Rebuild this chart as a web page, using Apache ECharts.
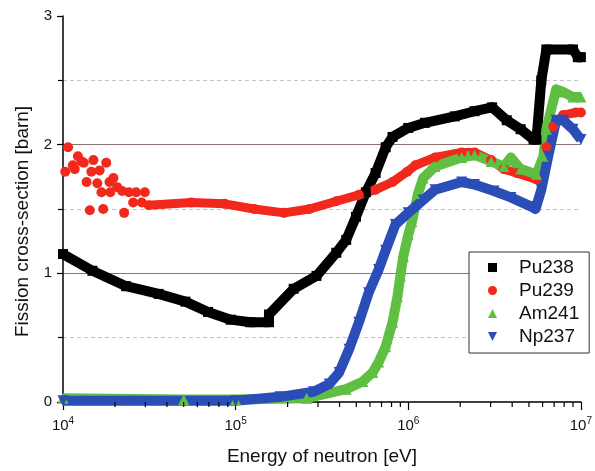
<!DOCTYPE html>
<html>
<head>
<meta charset="utf-8">
<script src="https://cdn.jsdelivr.net/npm/echarts@6/dist/echarts.min.js"></script>
<style>html,body{margin:0;padding:0;background:#fff;}#c{width:595px;height:471px;}</style>
</head>
<body>
<div id="c"></div>
<script>
// ---- data (energy in eV, fission cross-section in barn) ----
const seriesNames = ['Pu238', 'Pu239', 'Am241', 'Np237'];

const pu238 = [[1e4,1.15],[1.48e4,1.02],[2.32e4,0.90],[3.58e4,0.84],[5.12e4,0.78],[6.92e4,0.70],[9.35e4,0.64],[1.22e5,0.62],[1.56e5,0.62],[1.56e5,0.68],[2.17e5,0.88],[2.94e5,0.98],[3.83e5,1.16],[4.37e5,1.26],[4.98e5,1.44],[5.68e5,1.63],[6.47e5,1.78],[7.40e5,1.98],[8.11e5,2.06],[1e6,2.13],[1.25e6,2.17],[1.86e6,2.22],[2.42e6,2.26],[3.06e6,2.29],[3.72e6,2.19],[4.48e6,2.12],[5.32e6,2.04],[5.53e6,2.04],[5.90e6,2.50],[6.31e6,2.74],[9.0e6,2.74],[9.6e6,2.68],[1e7,2.68]];

const pu239Scatter = [[1.07e4,1.98],[1.03e4,1.79],[1.14e4,1.84],[1.17e4,1.81],[1.22e4,1.91],[1.28e4,1.87],[1.32e4,1.86],[1.37e4,1.71],[1.43e4,1.49],[1.50e4,1.88],[1.46e4,1.79],[1.63e4,1.80],[1.58e4,1.70],[1.78e4,1.86],[1.67e4,1.63],[1.71e4,1.50],[1.86e4,1.71],[1.88e4,1.63],[1.96e4,1.74],[2.06e4,1.67],[2.26e4,1.47],[2.20e4,1.64],[2.41e4,1.63],[2.65e4,1.63],[2.55e4,1.55],[2.98e4,1.63],[2.86e4,1.55]];

const pu239 = [[3.14e4,1.53],[5.53e4,1.55],[8.65e4,1.54],[1.28e5,1.50],[1.91e5,1.47],[2.68e5,1.50],[3.83e5,1.56],[5.18e5,1.61],[6.47e5,1.65],[8.11e5,1.71],[9.87e5,1.79],[1.10e6,1.84],[1.43e6,1.90],[2.04e6,1.94],[2.42e6,1.94],[3.02e6,1.88],[3.58e6,1.81],[4.25e6,1.78],[5.53e6,1.73],[6.31e6,1.98],[6.92e6,2.14],[7.89e6,2.23],[9.36e6,2.25],[1e7,2.25]];

const am241 = [[1e4,0.03],[5e4,0.02],[1e5,0.02],[2.58e5,0.03],[4.37e5,0.10],[5.46e5,0.16],[6.22e5,0.23],[6.74e5,0.31],[7.40e5,0.43],[8.11e5,0.62],[8.66e5,0.82],[9.0e5,0.98],[9.36e5,1.13],[1.0e6,1.30],[1.05e6,1.40],[1.14e6,1.62],[1.22e6,1.74],[1.43e6,1.83],[2.04e6,1.90],[2.42e6,1.92],[3.02e6,1.87],[3.58e6,1.83],[3.93e6,1.90],[4.48e6,1.81],[5.53e6,1.77],[6.07e6,1.91],[6.31e6,2.12],[7.19e6,2.43],[7.89e6,2.41],[9.0e6,2.37],[1e7,2.37]];

const np237 = [[1e4,0.01],[1e5,0.01],[1.81e5,0.04],[2.83e5,0.08],[3.49e5,0.14],[3.98e5,0.23],[4.54e5,0.41],[5.18e5,0.62],[5.90e5,0.85],[6.74e5,1.03],[7.40e5,1.18],[8.43e5,1.38],[1.0e6,1.47],[1.22e6,1.57],[1.43e6,1.65],[2.04e6,1.71],[2.42e6,1.69],[3.14e6,1.64],[3.93e6,1.59],[5.12e6,1.52],[5.46e6,1.50],[5.90e6,1.65],[6.47e6,1.91],[7.19e6,2.19],[7.89e6,2.19],[9.0e6,2.12],[1e7,2.04]];

const minorTickValues = [2e4,3e4,4e4,5e4,6e4,7e4,8e4,9e4,2e5,3e5,4e5,5e5,6e5,7e5,8e5,9e5,2e6,3e6,4e6,5e6,6e6,7e6,8e6,9e6];

// ---- chart ----
const FONT = 'Liberation Sans, Arial, sans-serif';
const colors = {Pu238:'#000000', Pu239:'#f2281c', Am241:'#5fbf43', Np237:'#2a4db8'};
const chart = echarts.init(document.getElementById('c'), null, {renderer:'canvas'});

function lineSeries(name, data, symbol, size, width) {
  return {
    name, type:'line', data, symbol, symbolSize:size, showSymbol:true,
    lineStyle:{color:colors[name], width:width, join:'round'},
    itemStyle:{color:colors[name]},
    animation:false
  };
}

const option = {
  animation:false,
  backgroundColor:'#ffffff',
  grid:{left:63, right:7, top:16, bottom:68, containLabel:false},
  xAxis:{
    type:'log', logBase:10, min:1e4, max:1e7,
    name:'Energy of neutron [eV]', nameLocation:'middle', nameGap:45,
    nameTextStyle:{fontFamily:FONT, fontSize:19, color:'#111'},
    axisLine:{show:true, onZero:false, lineStyle:{color:'#000', width:1.5}},
    axisTick:{show:true, inside:false, length:8, lineStyle:{color:'#000', width:1.2}},
    minorTick:{show:false},
    splitLine:{show:false},
    axisLabel:{
      fontFamily:FONT, fontSize:15, color:'#111', margin:14,
      formatter:function(v){ return '10{sup|' + Math.round(Math.log10(v)) + '}'; },
      rich:{sup:{fontFamily:FONT, fontSize:10, color:'#111', padding:[0,0,9,0]}}
    }
  },
  yAxis:{
    type:'value', min:0, max:3, interval:1,
    name:'Fission cross-section [barn]', nameLocation:'middle', nameGap:31,
    nameTextStyle:{fontFamily:FONT, fontSize:19, color:'#111', padding:[0,25,0,0]},
    axisLine:{show:true, lineStyle:{color:'#000', width:1.5}},
    axisTick:{show:true, inside:false, length:6, lineStyle:{color:'#000', width:1.2}},
    minorTick:{show:true, splitNumber:2, length:5, lineStyle:{color:'#000', width:1.2}},
    splitLine:{show:true, lineStyle:{color:['rgba(0,0,0,0)','#8c7272','#8c7272','rgba(0,0,0,0)'], width:1}},
    minorSplitLine:{show:true, lineStyle:{color:'#c4c4c4', width:1, type:[4,3]}},
    axisLabel:{fontFamily:FONT, fontSize:15, color:'#111', margin:11}
  },
  legend:{
    show:true, orient:'vertical', left:469, top:252,
    padding:[6,10,7,19], itemGap:4, itemWidth:9, itemHeight:9,
    backgroundColor:'#ffffff', borderColor:'#333', borderWidth:1,
    textStyle:{fontFamily:FONT, fontSize:19, color:'#111', lineHeight:19, padding:[0,0,0,17]},
    data:[
      {name:'Pu238', icon:'rect'},
      {name:'Pu239', icon:'circle'},
      {name:'Am241', icon:'triangle'},
      {name:'Np237', icon:'path://M0,0 L10,0 L5,10 Z'}
    ]
  },
  series:[
    {
      type:'custom', silent:true, clip:false, z:10,
      data:minorTickValues.map(v => [v, 0]),
      renderItem:function(params, api){
        const p = api.coord([api.value(0), 0]);
        return {type:'line', shape:{x1:p[0], y1:p[1], x2:p[0], y2:p[1]+5}, style:{stroke:'#000', lineWidth:1.2}};
      }
    },
    lineSeries('Pu238', pu238, 'rect', 10, 10),
    {name:'Pu239', type:'scatter', data:pu239Scatter, symbol:'circle', symbolSize:10, itemStyle:{color:colors.Pu239, opacity:1}},
    lineSeries('Pu239', pu239, 'circle', 10, 9),
    lineSeries('Am241', am241, 'triangle', 11, 10),
    lineSeries('Np237', np237, 'path://M0,0 L10,0 L5,10 Z', 11, 10)
  ]
};
chart.setOption(option);
</script>
</body>
</html>
